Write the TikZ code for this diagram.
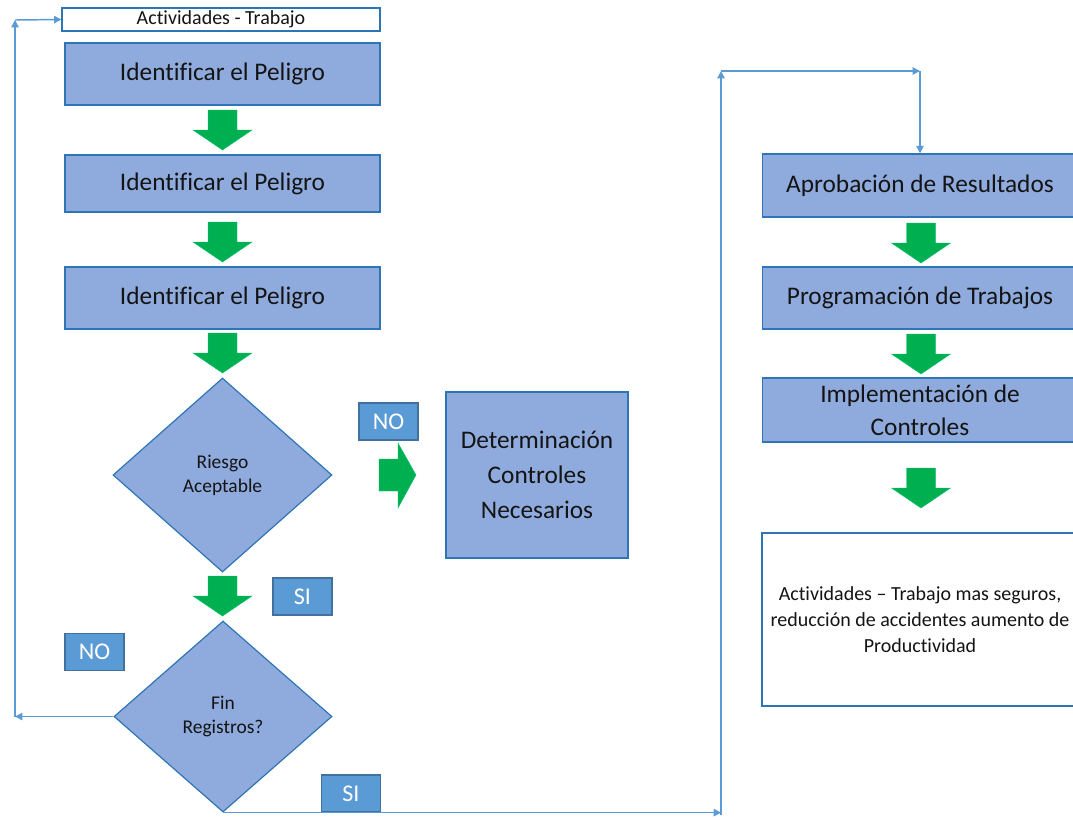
\documentclass[tikz,border=0pt]{standalone}
\usepackage{fontspec}
\setmainfont{Carlito}[Ligatures={TeX,NoCommon}]
\usetikzlibrary{shapes.geometric,arrows.meta}
\definecolor{boxfill}{HTML}{8FAADC}
\definecolor{boxdraw}{HTML}{2E75B6}
\definecolor{tagfill}{HTML}{5B9BD5}
\definecolor{tagdraw}{HTML}{41719C}
\definecolor{conncol}{HTML}{5B9BD5}
\definecolor{arrgreen}{HTML}{00B050}
\definecolor{txt}{HTML}{141414}
\tikzset{
  stepbox/.style={draw=boxdraw, line width=1.1pt, fill=boxfill, text=txt, align=center, inner sep=0pt,
    minimum width=236.25pt, font=\fontsize{19pt}{24.75pt}\selectfont},
  decide/.style={diamond, draw=boxdraw, line width=0.9pt, fill=boxfill, text=txt, align=center, inner sep=0pt,
    font=\fontsize{14.6pt}{18pt}\selectfont},
  tag/.style={draw=tagdraw, line width=0.9pt, fill=tagfill, text=white, inner sep=0pt,
    minimum width=44.25pt, minimum height=27.75pt, font=\fontsize{18pt}{20pt}\selectfont},
  plainbox/.style={draw=boxdraw, line width=0.9pt, fill=white, text=txt, align=center, inner sep=0pt},
  conn/.style={draw=conncol, line width=1.1pt, -{Triangle[length=5.5pt,width=5.5pt]}},
  garrowfill/.style={fill=arrgreen, draw=arrgreen!80!cyan, line width=0.3pt},
  garrow/.pic={\path[garrowfill] (-14.5,0) -- (14.5,0) -- (14.5,20) -- (29.5,20) -- (0,40) -- (-29.5,20) -- (-14.5,20) -- cycle;},
}
\begin{document}
\begin{tikzpicture}[x=0.75pt,y=-0.75pt]
\useasboundingbox (0,0) rectangle (1073,819);
\clip (0,0) rectangle (1073,819);

% left column
\node[plainbox, minimum width=238.5pt, minimum height=17.25pt, font=\fontsize{15pt}{17pt}\selectfont] (title) at (221,19.5) {Actividades - Trabajo};
\node[stepbox, minimum height=46.5pt] (b1) at (222.5,74) {Identificar el Peligro};
\node[stepbox, minimum height=42.75pt] (b2) at (222.5,183.5) {Identificar el Peligro};
\node[stepbox, minimum height=46.5pt] (b3) at (222.5,298) {Identificar el Peligro};
\node[decide, minimum width=164.25pt, minimum height=145.5pt] (d1) at (222.5,475) {Riesgo\\Aceptable};
\node[decide, minimum width=163.5pt, minimum height=143.25pt] (d2) at (223,716.5) {Fin\\Registros?};

\node[stepbox, minimum width=136.5pt, minimum height=124.5pt, font=\fontsize{19pt}{26.25pt}\selectfont] (det) at (537,475) {Determinación\\Controles\\Necesarios};

\node[tag] (no1) at (388.5,421.5) {NO};
\node[tag] (si1) at (302.5,596.5) {SI};
\node[tag] (no2) at (94.5,652) {NO};
\node[tag] (si2) at (351,793.5) {SI};

% right column
\node[stepbox, minimum height=47.25pt] (rA) at (920,185.5) {Aprobación de Resultados};
\node[stepbox, minimum height=46.5pt] (rP) at (920,298) {Programación de Trabajos};
\node[stepbox, minimum height=48pt] (rI) at (920,410) {Implementación de\\Controles};
\node[plainbox, minimum width=237pt, minimum height=129.75pt, font=\fontsize{15pt}{19.5pt}\selectfont] (fin) at (920,619.5) {Actividades -- Trabajo mas seguros,\\reducción de accidentes aumento de\\Productividad};

% green block arrows
\pic at (222.5,110) {garrow};
\pic at (222.5,222) {garrow};
\pic at (222.5,333) {garrow};
\pic at (222.5,576) {garrow};
\pic at (921,223) {garrow};
\pic at (921,334) {garrow};
\pic at (921,468) {garrow};
\path[garrowfill] (379,459) -- (398,459) -- (398,443) -- (416,475) -- (398,508) -- (398,491) -- (379,491) -- cycle;

% connectors
\coordinate (cL) at (15,716.5);
\coordinate (cT) at (15,20);
\coordinate (cB) at (721,814.5);
\coordinate (cR) at (721,71);
\coordinate (cR2) at (920,71);
\draw[conn] (d2.west) -- (cL);
\draw[conn] (cL) -- (cT);
\draw[conn] (cT) -- (title.west);
\draw[conn] (d2.south) -- (d2.south -| cB);
\draw[conn] (cB) -- (cR);
\draw[conn] (cR) -- (cR2);
\draw[conn] (cR2) -- (rA.north);
\end{tikzpicture}
\end{document}
